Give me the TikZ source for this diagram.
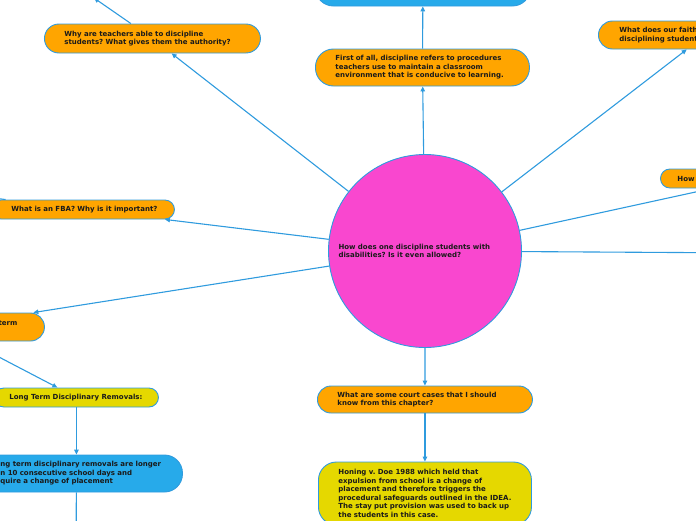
\documentclass[tikz,border=0pt]{standalone}
\usepackage{fontspec}
\setmainfont{DejaVu Sans}
\usetikzlibrary{arrows.meta}
\definecolor{org}{HTML}{FFA500}
\definecolor{blu}{HTML}{27AAEA}
\definecolor{edgec}{HTML}{2F9BDE}
\definecolor{pnk}{HTML}{F947CF}
\definecolor{yel}{HTML}{E5D800}
\definecolor{txt}{HTML}{1A1A1A}
\frenchspacing
\begin{document}
\begin{tikzpicture}[x=1pt,y=-1pt,
  box/.style={draw=edgec, line width=0.9pt, rectangle, inner ysep=0pt,
    font=\bfseries\fontsize{7}{8.5}\selectfont\frenchspacing, text=txt, align=left, anchor=west},
  conn/.style={draw=edgec, line width=1.1pt, -{Triangle[length=5pt,width=4.5pt]}}]
\useasboundingbox (0,0) rectangle (696,520);
% central circle
\node[circle, draw=edgec, line width=0.9pt, fill=pnk, minimum size=193pt, inner sep=0pt,
  text width=173pt, align=left, font=\bfseries\fontsize{7}{8.5}\selectfont\frenchspacing, text=txt]
  (c) at (425,251) {\mbox{How does one discipline students with}\\\mbox{disabilities? Is it even allowed?}};
% nodes
\node[box, fill=org, rounded corners=14.5pt, minimum width=216pt, minimum height=29pt,
  text width=176pt, inner xsep=20pt] (why) at (44,38.5)
  {\mbox{Why are teachers able to discipline}\\\mbox{students? What gives them the authority?}};
\node[box, fill=blu, rounded corners=18pt, minimum width=215pt, minimum height=36pt,
  text width=175pt, inner xsep=20pt] (topblue) at (315,-12) {};
\node[box, fill=org, rounded corners=18pt, minimum width=214pt, minimum height=37pt,
  text width=174pt, inner xsep=20pt] (first) at (315,67.5)
  {\mbox{First of all, discipline refers to procedures}\\\mbox{teachers use to maintain a classroom}\\\mbox{environment that is conducive to learning.}};
\node[box, fill=org, rounded corners=14pt, minimum width=214pt, minimum height=28pt,
  text width=172pt, inner xsep=21pt] (faith) at (598,35)
  {\mbox{What does our faith}\\\mbox{disciplining student}};
\node[box, fill=org, rounded corners=9.5pt, minimum width=194pt, minimum height=19pt,
  text width=160pt, inner xsep=17pt] (how) at (660,178.5) {How};
\node[box, fill=org, rounded corners=9.5pt, minimum width=183pt, minimum height=19pt,
  text width=143pt, inner xsep=20pt] (fba) at (-9,209.5)
  {\mbox{What is an FBA? Why is it important?}};
\node[box, fill=org, rounded corners=14pt, minimum width=206pt, minimum height=28pt,
  text width=152pt, inner xsep=27pt, align=right] (term) at (-162,327) {term\\\mbox{}};
\node[box, fill=yel, rounded corners=9.5pt, minimum width=164pt, minimum height=19pt,
  text width=134pt, inner xsep=15pt] (longterm) at (-6,397.5)
  {\mbox{Long Term Disciplinary Removals:}};
\node[box, fill=blu, rounded corners=18pt, minimum width=212pt, minimum height=37pt,
  text width=152pt, inner xsep=30pt] (bluebot) at (-30,473.5)
  {\mbox{ng term disciplinary removals are longer}\\\mbox{n 10 consecutive school days and}\\\mbox{quire a change of placement}};
\node[box, fill=org, rounded corners=13.5pt, minimum width=215pt, minimum height=27pt,
  text width=175pt, inner xsep=20pt] (court) at (317,399.5)
  {\mbox{What are some court cases that I should}\\\mbox{know from this chapter?}};
\node[box, fill=yel, rounded corners=18pt, minimum width=213pt, minimum height=63pt,
  text width=173pt, inner xsep=20pt] (honing) at (318,493.5)
  {\mbox{Honing v. Doe 1988 which held that}\\\mbox{expulsion from school is a change of}\\\mbox{placement and therefore triggers the}\\\mbox{procedural safeguards outlined in the IDEA.}\\\mbox{The stay put provision was used to back up}\\\mbox{the students in this case.}};
% free ends
\coordinate (offwhy) at (94,-2);
\coordinate (offright) at (760,253);
\coordinate (offfba) at (-40,193.7);
\coordinate (offbot) at (76,560);
% connectors
\draw[conn] (c) -- (why);
\draw[conn] (why) -- (offwhy);
\draw[conn] (c) -- (first);
\draw[conn] (first) -- (topblue);
\draw[conn] (c) -- (faith);
\draw[conn] (c) -- (how);
\draw[conn] (c) -- (offright);
\draw[conn] (c) -- (fba);
\draw[conn] (fba) -- (offfba);
\draw[conn] (c) -- (term);
\draw[conn] (term) -- (longterm);
\draw[conn] (longterm) -- (bluebot);
\draw[conn] (bluebot) -- (offbot);
\draw[conn] (c) -- (court);
\draw[conn] (court) -- (honing);
\end{tikzpicture}
\end{document}
